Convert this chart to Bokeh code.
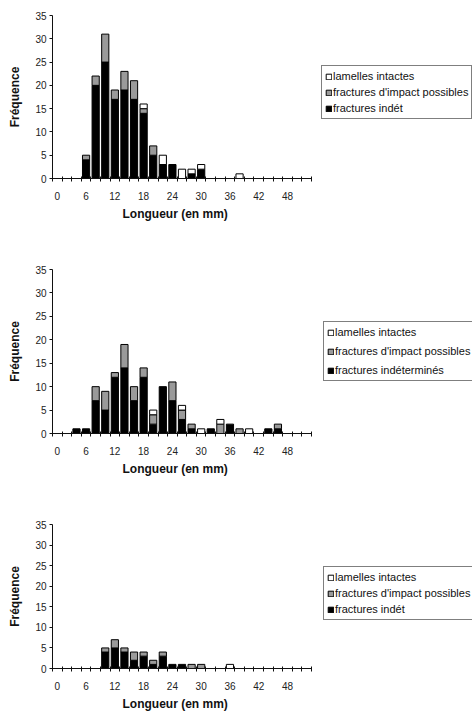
from bokeh.plotting import figure
from bokeh.models import Range1d, FixedTicker, Legend, LegendItem, Title
from bokeh.layouts import column
from bokeh.embed import file_html
from bokeh.resources import INLINE

# length classes (mm), one bar per 2 mm class
bins = list(range(0, 54, 2))
tick_values = [0, 6, 12, 18, 24, 30, 36, 42, 48]
tick_labels = ["0", "6", "12", "18", "24", "30", "36", "42", "48"]
y_ticks = [0, 5, 10, 15, 20, 25, 30, 35]

# chart 1
indet1 =  [0, 0, 0, 4, 20, 25, 17, 19, 17, 14, 5, 3, 3, 0, 1, 2, 0, 0, 0, 0, 0, 0, 0, 0, 0, 0, 0]
impact1 = [0, 0, 0, 1, 2, 6, 2, 4, 4, 1, 2, 0, 0, 0, 0, 0, 0, 0, 0, 0, 0, 0, 0, 0, 0, 0, 0]
intact1 = [0, 0, 0, 0, 0, 0, 0, 0, 0, 1, 0, 2, 0, 2, 1, 1, 0, 0, 0, 1, 0, 0, 0, 0, 0, 0, 0]
labels1 = ["lamelles intactes", "fractures d'impact possibles", "fractures indét"]

# chart 2
indet2 =  [0, 0, 1, 1, 7, 5, 12, 14, 7, 12, 2, 10, 7, 3, 1, 0, 1, 0, 2, 0, 0, 0, 1, 1, 0, 0, 0]
impact2 = [0, 0, 0, 0, 3, 4, 1, 5, 3, 2, 2, 0, 4, 2, 1, 0, 0, 2, 0, 1, 0, 0, 0, 1, 0, 0, 0]
intact2 = [0, 0, 0, 0, 0, 0, 0, 0, 0, 0, 1, 0, 0, 1, 0, 1, 0, 1, 0, 0, 1, 0, 0, 0, 0, 0, 0]
labels2 = ["lamelles intactes", "fractures d'impact possibles", "fractures indéterminés"]

# chart 3
indet3 =  [0, 0, 0, 0, 0, 4, 5, 4, 2, 3, 1, 3, 1, 1, 0, 0, 0, 0, 0, 0, 0, 0, 0, 0, 0, 0, 0]
impact3 = [0, 0, 0, 0, 0, 1, 2, 1, 2, 1, 1, 1, 0, 0, 1, 1, 0, 0, 0, 0, 0, 0, 0, 0, 0, 0, 0]
intact3 = [0, 0, 0, 0, 0, 0, 0, 0, 0, 0, 0, 0, 0, 0, 0, 0, 0, 0, 1, 0, 0, 0, 0, 0, 0, 0, 0]
labels3 = ["lamelles intactes", "fractures d'impact possibles", "fractures indét"]

x_title = "Longueur (en mm)"
y_title = "Fréquence"

FONT = "Liberation Sans"
GREY = "#9a9a9a"
X_LO, X_HI = -1, 53
# frame spans to the right edge so the legend (inside the frame) is not clipped
X_VIEW_HI = X_LO + (472 - 52) * (X_HI - X_LO) / 259.0


def make_chart(indet, impact, intact, labels, height, top, frame_h,
               leg_x, leg_y, leg_spacing):
    p = figure(width=472, height=height, output_backend="svg", toolbar_location=None,
               x_range=Range1d(X_LO, X_VIEW_HI), y_range=Range1d(0, 35),
               min_border_left=52, min_border_right=0,
               min_border_top=top, min_border_bottom=height - top - frame_h)
    p.outline_line_color = None
    p.xgrid.visible = False
    p.ygrid.visible = False
    p.background_fill_color = "white"
    p.border_fill_color = "white"

    series = [(indet, "black"), (impact, GREY), (intact, "white")]
    base = [0] * len(bins)
    rends = []
    for vals, col in series:
        xs, bots, tops = [], [], []
        for i, v in enumerate(vals):
            if v > 0:
                xs.append(bins[i])
                bots.append(base[i])
                tops.append(base[i] + v)
        r = p.vbar(x=xs, bottom=bots, top=tops, width=1.5, fill_color=col,
                   line_color="black", line_width=1)
        rends.append(r)
        base = [b + v for b, v in zip(base, vals)]

    xa = p.xaxis[0]
    xa.bounds = (X_LO, X_HI)
    xa.ticker = FixedTicker(ticks=tick_values, minor_ticks=[b - 1 for b in bins] + [53])
    xa.major_label_overrides = {v: l for v, l in zip(tick_values, tick_labels)}
    xa.major_tick_in = 0
    xa.major_tick_out = 0
    xa.minor_tick_in = 2
    xa.minor_tick_out = 3
    xa.major_label_standoff = 10

    ya = p.yaxis[0]
    ya.ticker = FixedTicker(ticks=y_ticks)
    ya.minor_tick_out = 0
    ya.minor_tick_in = 0
    ya.major_tick_in = 0
    ya.major_tick_out = 3
    ya.major_label_standoff = 3
    ya.axis_label = y_title
    ya.axis_label_standoff = 10

    for ax in (xa, ya):
        ax.axis_line_color = "#111111"
        ax.major_tick_line_color = "#111111"
        ax.minor_tick_line_color = "#111111"
        ax.major_label_text_font = FONT
        ax.major_label_text_font_size = "10px"
        ax.major_label_text_color = "#222222"
        ax.axis_label_text_font = FONT
        ax.axis_label_text_font_style = "bold"
        ax.axis_label_text_color = "#111111"
    ya.axis_label_text_font_size = "12px"

    # x axis title centred under the axis (not under the whole frame)
    t = Title(text=x_title, align="left", offset=70, standoff=4,
              text_font=FONT, text_font_size="12px", text_font_style="bold",
              text_color="#111111")
    p.add_layout(t, "below")

    items = [LegendItem(label=labels[0], renderers=[rends[2]]),
             LegendItem(label=labels[1], renderers=[rends[1]]),
             LegendItem(label=labels[2], renderers=[rends[0]])]
    leg = Legend(items=items, location=(leg_x, leg_y), orientation="vertical",
                 glyph_width=7, glyph_height=7, label_height=14, label_standoff=1,
                 padding=3, spacing=leg_spacing, margin=0,
                 border_line_color="black", border_line_width=1,
                 label_text_font=FONT, label_text_font_size="11px",
                 label_text_color="#111111", background_fill_color="white",
                 background_fill_alpha=1)
    p.add_layout(leg)
    return p


p1 = make_chart(indet1, impact1, intact1, labels1, 240, 15, 163, 269, 59, 2)
p2 = make_chart(indet2, impact2, intact2, labels2, 240, 29, 164, 271, 52, 5)
p3 = make_chart(indet3, impact3, intact3, labels3, 237, 44, 144, 271, 48, 2)

layout = column(p1, p2, p3, spacing=0)
open("out.html", "w").write(file_html(layout, INLINE))
